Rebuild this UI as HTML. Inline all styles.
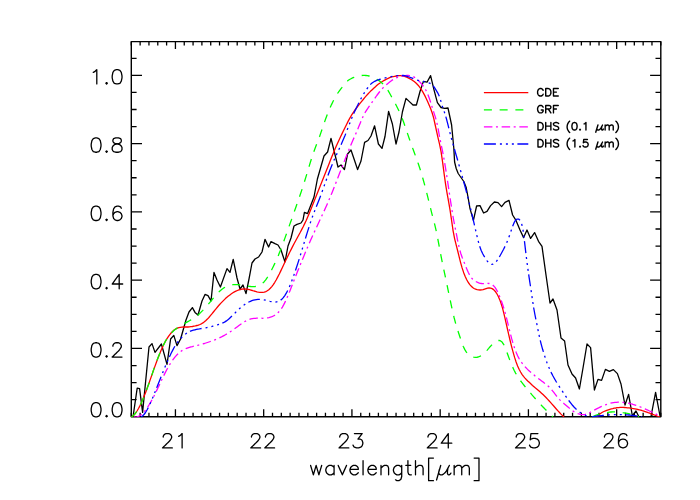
<!DOCTYPE html>
<html><head><meta charset="utf-8"><title>plot</title>
<style>html,body{margin:0;padding:0;background:#fff;font-family:"Liberation Sans",sans-serif}
#w{position:relative;width:700px;height:500px;overflow:hidden;background:#fff}</style></head>
<body><div id="w">
<svg width="700" height="500" viewBox="0 0 700 500" style="position:absolute;left:0;top:0">
<rect width="700" height="500" fill="#fff"/>
<defs><clipPath id="c"><rect x="131.3" y="40.6" width="529.5" height="376.7"/></clipPath></defs>
<g fill="none" stroke-linejoin="round" stroke-linecap="butt">
<path d="M483.9,92.7 H528.3" stroke="#f00" stroke-width="1.30"/>
<path d="M483.9,109.9 H528.3" stroke="#0f0" stroke-width="1.30" stroke-dasharray="8 7.74"/>
<path d="M483.9,126.8 H528.3" stroke="#f0f" stroke-width="1.30" stroke-dasharray="8.5 3.55 2 3.68"/>
<path d="M483.9,144.0 H528.3" stroke="#00f" stroke-width="1.30" stroke-dasharray="12 4 2 4 2 3.95 2 3.55"/>
<path d="M131.30,416.70 V412.80 M131.30,41.60 V45.50 M140.13,416.70 V412.80 M140.13,41.60 V45.50 M148.95,416.70 V412.80 M148.95,41.60 V45.50 M157.78,416.70 V412.80 M157.78,41.60 V45.50 M166.60,416.70 V412.80 M166.60,41.60 V45.50 M175.43,416.70 V409.20 M175.43,41.60 V49.10 M184.25,416.70 V412.80 M184.25,41.60 V45.50 M193.07,416.70 V412.80 M193.07,41.60 V45.50 M201.90,416.70 V412.80 M201.90,41.60 V45.50 M210.72,416.70 V412.80 M210.72,41.60 V45.50 M219.55,416.70 V412.80 M219.55,41.60 V45.50 M228.38,416.70 V412.80 M228.38,41.60 V45.50 M237.20,416.70 V412.80 M237.20,41.60 V45.50 M246.03,416.70 V412.80 M246.03,41.60 V45.50 M254.85,416.70 V412.80 M254.85,41.60 V45.50 M263.68,416.70 V409.20 M263.68,41.60 V49.10 M272.50,416.70 V412.80 M272.50,41.60 V45.50 M281.32,416.70 V412.80 M281.32,41.60 V45.50 M290.15,416.70 V412.80 M290.15,41.60 V45.50 M298.97,416.70 V412.80 M298.97,41.60 V45.50 M307.80,416.70 V412.80 M307.80,41.60 V45.50 M316.63,416.70 V412.80 M316.63,41.60 V45.50 M325.45,416.70 V412.80 M325.45,41.60 V45.50 M334.28,416.70 V412.80 M334.28,41.60 V45.50 M343.10,416.70 V412.80 M343.10,41.60 V45.50 M351.93,416.70 V409.20 M351.93,41.60 V49.10 M360.75,416.70 V412.80 M360.75,41.60 V45.50 M369.57,416.70 V412.80 M369.57,41.60 V45.50 M378.40,416.70 V412.80 M378.40,41.60 V45.50 M387.22,416.70 V412.80 M387.22,41.60 V45.50 M396.05,416.70 V412.80 M396.05,41.60 V45.50 M404.88,416.70 V412.80 M404.88,41.60 V45.50 M413.70,416.70 V412.80 M413.70,41.60 V45.50 M422.53,416.70 V412.80 M422.53,41.60 V45.50 M431.35,416.70 V412.80 M431.35,41.60 V45.50 M440.18,416.70 V409.20 M440.18,41.60 V49.10 M449.00,416.70 V412.80 M449.00,41.60 V45.50 M457.82,416.70 V412.80 M457.82,41.60 V45.50 M466.65,416.70 V412.80 M466.65,41.60 V45.50 M475.47,416.70 V412.80 M475.47,41.60 V45.50 M484.30,416.70 V412.80 M484.30,41.60 V45.50 M493.13,416.70 V412.80 M493.13,41.60 V45.50 M501.95,416.70 V412.80 M501.95,41.60 V45.50 M510.78,416.70 V412.80 M510.78,41.60 V45.50 M519.60,416.70 V412.80 M519.60,41.60 V45.50 M528.42,416.70 V409.20 M528.42,41.60 V49.10 M537.25,416.70 V412.80 M537.25,41.60 V45.50 M546.07,416.70 V412.80 M546.07,41.60 V45.50 M554.90,416.70 V412.80 M554.90,41.60 V45.50 M563.72,416.70 V412.80 M563.72,41.60 V45.50 M572.55,416.70 V412.80 M572.55,41.60 V45.50 M581.38,416.70 V412.80 M581.38,41.60 V45.50 M590.20,416.70 V412.80 M590.20,41.60 V45.50 M599.03,416.70 V412.80 M599.03,41.60 V45.50 M607.85,416.70 V412.80 M607.85,41.60 V45.50 M616.67,416.70 V409.20 M616.67,41.60 V49.10 M625.50,416.70 V412.80 M625.50,41.60 V45.50 M634.32,416.70 V412.80 M634.32,41.60 V45.50 M643.15,416.70 V412.80 M643.15,41.60 V45.50 M651.97,416.70 V412.80 M651.97,41.60 V45.50 M660.80,416.70 V412.80 M660.80,41.60 V45.50 M131.30,399.68 H136.60 M660.80,399.68 H655.50 M131.30,382.61 H136.60 M660.80,382.61 H655.50 M131.30,365.54 H136.60 M660.80,365.54 H655.50 M131.30,348.47 H142.00 M660.80,348.47 H650.10 M131.30,331.40 H136.60 M660.80,331.40 H655.50 M131.30,314.33 H136.60 M660.80,314.33 H655.50 M131.30,297.26 H136.60 M660.80,297.26 H655.50 M131.30,280.19 H142.00 M660.80,280.19 H650.10 M131.30,263.12 H136.60 M660.80,263.12 H655.50 M131.30,246.05 H136.60 M660.80,246.05 H655.50 M131.30,228.98 H136.60 M660.80,228.98 H655.50 M131.30,211.91 H142.00 M660.80,211.91 H650.10 M131.30,194.84 H136.60 M660.80,194.84 H655.50 M131.30,177.77 H136.60 M660.80,177.77 H655.50 M131.30,160.70 H136.60 M660.80,160.70 H655.50 M131.30,143.63 H142.00 M660.80,143.63 H650.10 M131.30,126.56 H136.60 M660.80,126.56 H655.50 M131.30,109.49 H136.60 M660.80,109.49 H655.50 M131.30,92.42 H136.60 M660.80,92.42 H655.50 M131.30,75.35 H142.00 M660.80,75.35 H650.10 M131.30,58.28 H136.60 M660.80,58.28 H655.50" stroke="#000" stroke-width="1.30" stroke-linecap="butt"/>
<rect x="131.30" y="41.60" width="529.50" height="375.10" stroke="#000" stroke-width="1.40"/>
<g clip-path="url(#c)" stroke-width="1.30">
<path d="M133.0,417.0 L137.2,388.2 L139.6,388.6 L142.6,412.4 L149.0,347.0 L152.0,343.6 L155.0,352.4 L161.4,344.0 L167.0,364.4 L170.6,339.0 L173.8,335.4 L177.0,345.6 L180.6,339.0 L186.0,320.0 L189.0,312.0 L192.4,307.6 L195.0,312.4 L198.0,315.0 L202.0,301.0 L205.0,294.4 L208.0,295.6 L211.0,301.0 L214.0,272.4 L217.0,280.0 L220.4,287.0 L227.0,268.6 L230.0,272.4 L233.2,259.4 L237.0,278.0 L240.0,289.0 L243.0,285.0 L246.0,293.6 L249.0,279.0 L252.0,263.0 L255.0,259.0 L258.6,257.0 L262.0,252.0 L265.0,239.4 L268.6,247.0 L271.0,241.6 L275.0,243.6 L278.0,245.0 L281.0,250.0 L285.0,262.0 L288.0,246.0 L291.0,238.0 L294.0,226.0 L297.0,224.4 L301.0,223.0 L303.0,220.0 L304.4,212.4 L307.6,213.6 L314.0,197.0 L317.4,179.0 L324.0,156.0 L327.6,152.0 L331.0,138.4 L334.6,153.0 L338.0,167.0 L341.0,165.0 L344.4,169.6 L347.6,154.0 L351.0,150.0 L354.4,160.0 L357.6,169.6 L361.0,161.0 L364.6,142.4 L368.0,140.5 L371.0,136.0 L374.6,125.8 L378.4,144.0 L382.0,148.4 L385.0,136.5 L388.6,111.4 L392.4,124.0 L396.0,144.0 L399.0,132.0 L402.4,112.0 L406.0,98.4 L409.4,101.6 L413.0,105.0 L416.4,105.0 L420.0,91.5 L423.4,81.4 L427.0,82.2 L430.6,75.6 L434.0,89.8 L437.4,102.7 L441.0,107.5 L444.6,108.4 L448.0,108.0 L451.6,125.0 L453.8,148.0 L454.6,162.0 L456.2,168.5 L458.2,173.5 L461.0,177.5 L463.8,181.5 L466.2,187.5 L468.0,197.0 L470.0,208.6 L473.4,220.4 L476.6,206.0 L480.0,205.6 L483.6,213.0 L487.0,211.4 L490.6,205.6 L494.4,202.0 L498.0,202.6 L501.6,206.6 L505.0,202.4 L509.0,200.4 L512.6,215.0 L516.0,220.4 L520.0,230.0 L523.6,237.6 L527.0,230.0 L530.6,238.4 L534.6,232.6 L538.5,241.3 L542.0,246.4 L546.0,275.0 L550.0,303.0 L553.0,299.0 L557.0,310.0 L561.0,338.0 L564.6,341.0 L568.0,365.0 L572.0,374.0 L575.6,378.0 L579.4,389.0 L583.0,368.0 L587.0,344.0 L590.6,347.6 L594.4,390.0 L598.0,379.4 L601.6,380.4 L605.4,369.4 L609.4,371.4 L613.4,369.6 L617.4,373.6 L621.0,384.0 L625.0,405.0 L628.6,394.4 L632.4,416.0 L636.0,411.0 L639.0,417.0 L651.0,416.5 L655.6,392.4 L660.0,416.0" stroke="#000"/>
<path d="M131.0,417.0 L132.5,416.2 L134.0,414.9 L135.5,413.2 L137.0,411.0 L138.5,408.5 L140.0,405.6 L141.5,402.5 L143.0,399.0 L144.5,395.3 L146.0,391.4 L147.5,387.3 L149.0,383.2 L150.5,378.9 L152.0,374.6 L153.5,370.3 L155.0,366.1 L156.5,362.0 L158.0,358.0 L159.5,354.2 L161.0,350.6 L162.5,347.2 L164.0,344.0 L165.5,341.1 L167.0,338.6 L168.5,336.3 L170.0,334.3 L171.5,332.5 L173.0,331.0 L174.4,329.8 L175.9,328.9 L177.4,328.1 L178.9,327.6 L180.4,327.3 L181.9,327.1 L183.4,327.0 L184.9,327.0 L186.4,327.0 L187.9,327.0 L189.4,326.9 L190.9,326.7 L192.4,326.5 L193.9,326.2 L195.4,325.9 L196.9,325.5 L198.4,325.1 L199.9,324.5 L201.4,323.8 L202.9,322.9 L204.4,321.8 L205.9,320.5 L207.4,319.1 L208.9,317.5 L210.4,315.7 L211.9,313.9 L213.4,312.0 L214.9,310.1 L216.4,308.3 L217.9,306.5 L219.4,304.8 L220.9,303.1 L222.4,301.6 L223.9,300.1 L225.4,298.6 L226.9,297.3 L228.4,296.0 L229.9,294.9 L231.4,293.8 L232.9,292.8 L234.4,291.9 L235.9,291.2 L237.4,290.5 L238.9,289.9 L240.4,289.5 L241.9,289.2 L243.4,289.0 L244.9,289.0 L246.4,289.1 L247.9,289.3 L249.4,289.7 L250.9,290.1 L252.4,290.5 L253.9,291.0 L255.4,291.4 L256.9,291.8 L258.4,292.1 L259.9,292.3 L261.3,292.4 L262.8,292.3 L264.3,292.1 L265.8,291.6 L267.3,290.8 L268.8,289.7 L270.3,288.3 L271.8,286.6 L273.3,284.6 L274.8,282.3 L276.3,279.7 L277.8,276.9 L279.3,274.0 L280.8,270.9 L282.3,267.7 L283.8,264.5 L285.3,261.3 L286.8,258.2 L288.3,255.1 L289.8,252.0 L291.3,249.1 L292.8,246.1 L294.3,243.3 L295.8,240.5 L297.3,237.8 L298.8,235.0 L300.3,232.3 L301.8,229.4 L303.3,226.5 L304.8,223.4 L306.3,220.2 L307.8,216.7 L309.3,213.2 L310.8,209.5 L312.3,205.8 L313.8,202.0 L315.3,198.3 L316.8,194.5 L318.3,190.8 L319.8,187.1 L321.3,183.3 L322.8,179.6 L324.3,175.8 L325.8,172.0 L327.3,168.2 L328.8,164.4 L330.3,160.6 L331.8,156.8 L333.3,153.2 L334.8,149.6 L336.3,146.1 L337.8,142.7 L339.3,139.4 L340.8,136.2 L342.3,133.1 L343.8,130.0 L345.3,127.0 L346.8,124.0 L348.2,121.1 L349.7,118.4 L351.2,115.7 L352.7,113.3 L354.2,111.1 L355.7,109.0 L357.2,107.0 L358.7,105.1 L360.2,103.2 L361.7,101.3 L363.2,99.5 L364.7,97.6 L366.2,95.9 L367.7,94.2 L369.2,92.6 L370.7,91.1 L372.2,89.7 L373.7,88.3 L375.2,86.9 L376.7,85.6 L378.2,84.3 L379.7,83.2 L381.2,82.2 L382.7,81.3 L384.2,80.4 L385.7,79.6 L387.2,78.8 L388.7,78.1 L390.2,77.4 L391.7,76.9 L393.2,76.6 L394.7,76.3 L396.2,76.0 L397.7,75.7 L399.2,75.6 L400.7,75.6 L402.2,75.8 L403.7,76.1 L405.2,76.6 L406.7,77.2 L408.2,77.9 L409.7,78.7 L411.2,79.5 L412.7,80.4 L414.2,81.5 L415.7,82.7 L417.2,84.2 L418.7,85.9 L420.2,87.8 L421.7,90.1 L423.2,92.6 L424.7,95.4 L426.2,98.5 L427.7,101.7 L429.2,105.2 L430.7,108.8 L432.2,113.0 L433.7,118.1 L435.1,124.5 L436.6,131.4 L438.1,138.1 L439.6,144.3 L441.1,151.8 L442.6,162.2 L444.1,173.7 L445.6,184.3 L447.1,193.3 L448.6,201.6 L450.1,210.3 L451.6,220.5 L453.1,230.8 L454.6,238.6 L456.1,244.7 L457.6,250.5 L459.1,256.6 L460.6,262.6 L462.1,267.9 L463.6,272.4 L465.1,276.3 L466.6,279.5 L468.1,282.2 L469.6,284.4 L471.1,286.1 L472.6,287.5 L474.1,288.5 L475.6,289.2 L477.1,289.6 L478.6,289.9 L480.1,290.0 L481.6,289.9 L483.1,289.6 L484.6,289.1 L486.1,288.6 L487.6,288.2 L489.1,288.0 L490.6,288.1 L492.1,288.6 L493.6,289.6 L495.1,291.2 L496.6,293.3 L498.1,296.0 L499.6,299.4 L501.1,303.5 L502.6,308.4 L504.1,314.3 L505.6,320.8 L507.1,327.5 L508.6,334.1 L510.1,340.5 L511.6,346.6 L513.1,352.2 L514.6,357.4 L516.1,362.0 L517.6,365.9 L519.1,369.3 L520.6,372.0 L522.0,374.3 L523.5,376.3 L525.0,378.1 L526.5,379.7 L528.0,381.2 L529.5,382.6 L531.0,384.0 L532.5,385.4 L534.0,386.7 L535.5,388.0 L537.0,389.2 L538.5,390.5 L540.0,391.8 L541.5,393.2 L543.0,394.6 L544.5,396.0 L546.0,397.5 L547.5,399.1 L549.0,400.7 L550.5,402.4 L552.0,404.1 L553.5,405.8 L555.0,407.5 L556.5,409.2 L558.0,410.9 L559.5,412.5 L561.0,414.1 L562.5,415.6 L564.0,417.0" stroke="#f00"/>
<path d="M596.5,417.0 L598.0,415.5 L599.5,414.3 L600.9,413.2 L602.4,412.3 L603.9,411.5 L605.4,410.9 L606.8,410.3 L608.3,409.8 L609.8,409.3 L611.3,408.9 L612.7,408.6 L614.2,408.2 L615.7,408.0 L617.2,407.7 L618.7,407.6 L620.1,407.4 L621.6,407.4 L623.1,407.4 L624.6,407.5 L626.0,407.6 L627.5,407.8 L629.0,407.9 L630.5,408.2 L631.9,408.4 L633.4,408.6 L634.9,408.9 L636.4,409.2 L637.8,409.5 L639.3,409.8 L640.8,410.2 L642.3,410.7 L643.8,411.1 L645.2,411.6 L646.7,412.1 L648.2,412.7 L649.7,413.2 L651.1,413.8 L652.6,414.3 L654.1,414.9 L655.6,415.4 L657.0,416.0 L658.5,416.5 L660.0,417.0" stroke="#f00"/>
<path d="M131.0,417.0 L132.5,416.2 L134.0,414.9 L135.5,413.2 L137.0,411.0 L138.5,408.5 L140.0,405.6 L141.5,402.5 L143.0,399.0 L144.5,395.4 L146.0,391.5 L147.5,387.4 L149.0,383.2 L150.5,379.0 L152.0,374.7 L153.4,370.4 L154.9,366.2 L156.4,362.0 L157.9,358.0 L159.4,354.2 L160.9,350.6 L162.4,347.2 L163.9,344.1 L165.4,341.2 L166.9,338.8 L168.4,336.6 L169.9,334.7 L171.4,333.0 L172.9,331.5 L174.4,330.1 L175.9,328.9 L177.4,327.8 L178.9,326.7 L180.4,325.8 L181.9,324.9 L183.4,324.1 L184.9,323.2 L186.4,322.4 L187.9,321.6 L189.4,320.8 L190.9,319.9 L192.4,319.1 L193.9,318.1 L195.3,317.1 L196.8,315.9 L198.3,314.7 L199.8,313.4 L201.3,311.9 L202.8,310.4 L204.3,308.8 L205.8,307.1 L207.3,305.4 L208.8,303.6 L210.3,301.8 L211.8,300.0 L213.3,298.2 L214.8,296.4 L216.3,294.7 L217.8,293.1 L219.3,291.6 L220.8,290.2 L222.3,289.0 L223.8,287.9 L225.3,287.1 L226.8,286.3 L228.3,285.7 L229.8,285.3 L231.3,284.9 L232.8,284.7 L234.3,284.6 L235.8,284.6 L237.2,284.6 L238.7,284.7 L240.2,284.9 L241.7,285.1 L243.2,285.3 L244.7,285.6 L246.2,285.9 L247.7,286.1 L249.2,286.3 L250.7,286.5 L252.2,286.6 L253.7,286.6 L255.2,286.5 L256.7,286.3 L258.2,285.9 L259.7,285.3 L261.2,284.4 L262.7,283.2 L264.2,281.7 L265.7,279.9 L267.2,277.7 L268.7,275.3 L270.2,272.6 L271.7,269.7 L273.2,266.7 L274.7,263.6 L276.2,260.5 L277.7,257.2 L279.1,253.6 L280.6,249.9 L282.1,245.9 L283.6,241.8 L285.1,237.6 L286.6,233.4 L288.1,229.2 L289.6,224.9 L291.1,220.7 L292.6,216.4 L294.1,212.2 L295.6,208.0 L297.1,203.7 L298.6,199.4 L300.1,195.0 L301.6,190.6 L303.1,186.0 L304.6,181.3 L306.1,176.4 L307.6,171.4 L309.1,166.4 L310.6,161.5 L312.1,156.8 L313.6,152.4 L315.1,148.2 L316.6,144.3 L318.1,140.4 L319.6,136.5 L321.0,132.4 L322.5,128.0 L324.0,123.6 L325.5,119.3 L327.0,115.3 L328.5,111.5 L330.0,107.9 L331.5,104.6 L333.0,101.5 L334.5,98.6 L336.0,95.9 L337.5,93.5 L339.0,91.3 L340.5,89.3 L342.0,87.4 L343.5,85.4 L345.0,83.6 L346.5,82.0 L348.0,80.6 L349.5,79.5 L351.0,78.7 L352.5,77.9 L354.0,77.3 L355.5,76.8 L357.0,76.3 L358.5,76.0 L360.0,75.7 L361.5,75.5 L363.0,75.4 L364.4,75.4 L365.9,75.5 L367.4,75.7 L368.9,76.0 L370.4,76.4 L371.9,76.9 L373.4,77.5 L374.9,78.2 L376.4,79.0 L377.9,79.9 L379.4,80.9 L380.9,82.1 L382.4,83.4 L383.9,85.0 L385.4,86.8 L386.9,88.8 L388.4,91.1 L389.9,93.7 L391.4,96.5 L392.9,99.3 L394.4,102.0 L395.9,104.8 L397.4,107.7 L398.9,110.7 L400.4,114.0 L401.9,117.6 L403.4,121.6 L404.9,125.8 L406.3,130.1 L407.8,134.4 L409.3,138.7 L410.8,143.0 L412.3,147.2 L413.8,151.3 L415.3,155.4 L416.8,159.5 L418.3,163.8 L419.8,168.2 L421.3,173.0 L422.8,178.2 L424.3,183.6 L425.8,189.3 L427.3,195.2 L428.8,201.2 L430.3,207.3 L431.8,213.3 L433.3,219.1 L434.8,224.8 L436.3,231.3 L437.8,238.8 L439.3,246.8 L440.8,254.9 L442.3,262.4 L443.8,269.7 L445.3,276.7 L446.8,283.7 L448.2,290.7 L449.7,297.8 L451.2,304.8 L452.7,311.6 L454.2,318.0 L455.7,323.6 L457.2,328.6 L458.7,333.2 L460.2,337.7 L461.7,342.2 L463.2,346.2 L464.7,349.4 L466.2,351.9 L467.7,353.7 L469.2,355.0 L470.7,356.0 L472.2,356.7 L473.7,357.2 L475.2,357.4 L476.7,357.3 L478.2,357.0 L479.7,356.4 L481.2,355.6 L482.7,354.5 L484.2,353.2 L485.7,351.7 L487.2,350.1 L488.7,348.4 L490.1,346.7 L491.6,345.1 L493.1,343.6 L494.6,342.3 L496.1,341.2 L497.6,340.6 L499.1,340.4 L500.6,340.9 L502.1,342.1 L503.6,344.3 L505.1,347.4 L506.6,351.3 L508.1,355.5 L509.6,359.6 L511.1,363.5 L512.6,367.0 L514.1,370.2 L515.6,373.1 L517.1,375.7 L518.6,378.0 L520.1,380.2 L521.6,382.2 L523.1,384.1 L524.6,386.0 L526.1,387.8 L527.6,389.6 L529.1,391.4 L530.6,393.2 L532.0,394.9 L533.5,396.6 L535.0,398.3 L536.5,400.0 L538.0,401.7 L539.5,403.3 L541.0,404.9 L542.5,406.5 L544.0,408.0 L545.5,409.6 L547.0,411.0 L548.5,412.5 L550.0,414.0 L551.5,415.5 L553.0,417.0" stroke="#0f0" stroke-dasharray="8 7.74"/>
<path d="M592.0,417.0 L593.5,416.3 L594.9,415.7 L596.4,415.1 L597.9,414.6 L599.3,414.2 L600.8,413.8 L602.3,413.5 L603.8,413.2 L605.2,412.9 L606.7,412.7 L608.2,412.4 L609.6,412.2 L611.1,412.0 L612.6,411.9 L614.0,411.9 L615.5,411.9 L617.0,411.9 L618.4,412.0 L619.9,412.2 L621.4,412.3 L622.8,412.6 L624.3,412.8 L625.8,413.1 L627.2,413.4 L628.7,413.7 L630.2,414.1 L631.7,414.5 L633.1,414.9 L634.6,415.3 L636.1,415.8 L637.5,416.3 L639.0,416.8" stroke="#0f0" stroke-dasharray="8 7.74"/>
<path d="M134.0,417.0 L135.5,417.1 L137.0,416.9 L138.5,416.4 L140.0,415.5 L141.5,414.4 L143.0,413.0 L144.5,411.4 L146.0,409.5 L147.5,407.4 L149.0,405.0 L150.5,402.5 L152.0,399.8 L153.5,397.0 L155.0,394.0 L156.5,390.9 L158.0,387.8 L159.5,384.6 L161.0,381.3 L162.5,378.2 L164.0,375.1 L165.5,372.1 L167.0,369.3 L168.5,366.6 L170.0,364.1 L171.5,361.8 L173.0,359.6 L174.5,357.7 L176.0,355.9 L177.5,354.3 L179.0,352.9 L180.5,351.7 L182.0,350.6 L183.5,349.7 L185.0,349.0 L186.5,348.3 L187.9,347.8 L189.4,347.3 L190.9,346.9 L192.4,346.6 L193.9,346.2 L195.4,345.9 L196.9,345.5 L198.4,345.2 L199.9,344.8 L201.4,344.3 L202.9,343.9 L204.4,343.5 L205.9,343.0 L207.4,342.5 L208.9,342.0 L210.4,341.5 L211.9,341.0 L213.4,340.4 L214.9,339.8 L216.4,339.2 L217.9,338.6 L219.4,337.9 L220.9,337.2 L222.4,336.4 L223.9,335.6 L225.4,334.8 L226.9,333.9 L228.4,332.9 L229.9,332.0 L231.4,331.0 L232.9,329.9 L234.4,328.9 L235.9,327.8 L237.4,326.7 L238.9,325.6 L240.4,324.5 L241.9,323.5 L243.4,322.4 L244.9,321.5 L246.4,320.7 L247.9,319.9 L249.4,319.4 L250.9,318.9 L252.4,318.6 L253.9,318.4 L255.4,318.3 L256.9,318.2 L258.4,318.2 L259.9,318.2 L261.4,318.2 L262.9,318.3 L264.4,318.2 L265.9,318.1 L267.4,317.9 L268.9,317.6 L270.4,317.2 L271.9,316.7 L273.4,316.0 L274.9,315.1 L276.4,314.0 L277.9,312.7 L279.4,311.2 L280.9,309.3 L282.4,307.1 L283.9,304.4 L285.4,301.4 L286.9,298.1 L288.4,294.6 L289.9,290.9 L291.4,287.1 L292.8,283.4 L294.3,279.6 L295.8,275.9 L297.3,272.1 L298.8,268.4 L300.3,264.7 L301.8,261.0 L303.3,257.4 L304.8,253.8 L306.3,250.2 L307.8,246.7 L309.3,243.2 L310.8,239.8 L312.3,236.5 L313.8,233.2 L315.3,229.9 L316.8,226.7 L318.3,223.4 L319.8,220.2 L321.3,217.0 L322.8,213.8 L324.3,210.6 L325.8,207.3 L327.3,203.9 L328.8,200.4 L330.3,196.9 L331.8,193.2 L333.3,189.4 L334.8,185.6 L336.3,181.8 L337.8,177.9 L339.3,174.1 L340.8,170.2 L342.3,166.4 L343.8,162.6 L345.3,158.7 L346.8,154.9 L348.3,151.2 L349.8,147.5 L351.3,143.9 L352.8,140.5 L354.3,137.1 L355.8,133.8 L357.3,130.3 L358.8,126.6 L360.3,122.9 L361.8,119.3 L363.3,116.0 L364.8,113.0 L366.3,110.6 L367.8,108.3 L369.3,106.2 L370.8,104.1 L372.3,101.9 L373.8,99.8 L375.3,97.7 L376.8,95.5 L378.3,93.5 L379.8,91.5 L381.3,89.7 L382.8,88.1 L384.3,86.6 L385.8,85.2 L387.3,83.9 L388.8,82.7 L390.3,81.5 L391.8,80.4 L393.3,79.5 L394.8,78.6 L396.3,77.9 L397.7,77.3 L399.2,76.7 L400.7,76.3 L402.2,76.0 L403.7,75.7 L405.2,75.6 L406.7,75.5 L408.2,75.5 L409.7,75.6 L411.2,75.9 L412.7,76.4 L414.2,77.1 L415.7,78.1 L417.2,79.3 L418.7,80.7 L420.2,82.4 L421.7,84.2 L423.2,86.0 L424.7,88.1 L426.2,90.7 L427.7,94.0 L429.2,98.0 L430.7,102.5 L432.2,107.3 L433.7,112.1 L435.2,116.6 L436.7,121.8 L438.2,129.1 L439.7,137.5 L441.2,144.9 L442.7,152.0 L444.2,160.1 L445.7,169.1 L447.2,178.7 L448.7,188.7 L450.2,198.8 L451.7,208.5 L453.2,217.6 L454.7,225.5 L456.2,233.0 L457.7,240.8 L459.2,247.8 L460.7,253.2 L462.2,257.5 L463.7,261.2 L465.2,265.0 L466.7,268.8 L468.2,272.3 L469.7,275.2 L471.2,277.5 L472.7,279.2 L474.2,280.4 L475.7,281.4 L477.2,282.2 L478.7,282.8 L480.2,283.3 L481.7,283.5 L483.2,283.6 L484.7,283.5 L486.2,283.4 L487.7,283.3 L489.2,283.5 L490.7,283.9 L492.2,284.7 L493.7,285.9 L495.2,287.7 L496.7,290.1 L498.2,293.1 L499.7,296.6 L501.2,300.4 L502.6,304.5 L504.1,309.1 L505.6,314.4 L507.1,320.3 L508.6,326.5 L510.1,332.6 L511.6,338.4 L513.1,343.6 L514.6,348.3 L516.1,352.3 L517.6,355.7 L519.1,358.6 L520.6,361.0 L522.1,363.2 L523.6,365.1 L525.1,366.8 L526.6,368.4 L528.1,369.9 L529.6,371.3 L531.1,372.6 L532.6,373.9 L534.1,375.1 L535.6,376.4 L537.1,377.6 L538.6,378.7 L540.1,379.8 L541.6,380.9 L543.1,382.0 L544.6,383.2 L546.1,384.3 L547.6,385.6 L549.1,387.0 L550.6,388.6 L552.1,390.3 L553.6,392.2 L555.1,394.2 L556.6,396.1 L558.1,398.0 L559.6,399.6 L561.1,401.1 L562.6,402.5 L564.1,403.7 L565.6,405.0 L567.1,406.3 L568.6,407.6 L570.1,408.8 L571.6,410.0 L573.1,411.1 L574.6,412.0 L576.1,412.8 L577.6,413.5 L579.1,414.0 L580.6,414.4 L582.1,414.6 L583.6,414.6 L585.1,414.4 L586.6,414.0 L588.1,413.4 L589.6,412.7 L591.1,411.9 L592.6,411.0 L594.1,410.2 L595.6,409.4 L597.1,408.6 L598.6,407.9 L600.1,407.1 L601.6,406.4 L603.1,405.8 L604.6,405.2 L606.1,404.6 L607.5,404.1 L609.0,403.6 L610.5,403.2 L612.0,402.9 L613.5,402.6 L615.0,402.4 L616.5,402.3 L618.0,402.2 L619.5,402.2 L621.0,402.2 L622.5,402.3 L624.0,402.5 L625.5,402.7 L627.0,402.9 L628.5,403.2 L630.0,403.6 L631.5,403.9 L633.0,404.4 L634.5,404.8 L636.0,405.3 L637.5,405.8 L639.0,406.4 L640.5,407.0 L642.0,407.6 L643.5,408.2 L645.0,408.9 L646.5,409.6 L648.0,410.2 L649.5,411.0 L651.0,411.7 L652.5,412.4 L654.0,413.1 L655.5,413.8 L657.0,414.6 L658.5,415.3 L660.0,416.0" stroke="#f0f" stroke-dasharray="8.5 3.55 2 3.68"/>
<path d="M141.0,417.0 L142.5,416.0 L144.0,414.5 L145.5,412.5 L147.0,410.0 L148.5,407.2 L150.0,404.0 L151.5,400.6 L153.0,397.0 L154.5,393.3 L156.0,389.5 L157.5,385.7 L159.0,381.9 L160.5,378.2 L162.0,374.4 L163.5,370.7 L165.0,367.1 L166.5,363.5 L168.0,360.0 L169.5,356.7 L171.0,353.5 L172.5,350.6 L174.0,347.8 L175.5,345.2 L177.0,343.0 L178.5,340.9 L180.0,339.1 L181.5,337.5 L183.0,336.0 L184.5,334.8 L185.9,333.7 L187.4,332.7 L188.9,331.9 L190.4,331.2 L191.9,330.6 L193.4,330.2 L194.9,329.8 L196.4,329.4 L197.9,329.1 L199.4,328.9 L200.9,328.6 L202.4,328.4 L203.9,328.2 L205.4,327.9 L206.9,327.6 L208.4,327.3 L209.9,327.0 L211.4,326.6 L212.9,326.2 L214.4,325.8 L215.9,325.3 L217.4,324.9 L218.9,324.4 L220.4,323.9 L221.9,323.3 L223.4,322.7 L224.9,321.9 L226.4,320.9 L227.9,319.8 L229.4,318.5 L230.9,317.1 L232.4,315.7 L233.9,314.1 L235.4,312.6 L236.9,311.1 L238.4,309.7 L239.9,308.3 L241.4,307.0 L242.9,305.8 L244.4,304.7 L245.9,303.7 L247.4,302.8 L248.9,302.0 L250.4,301.3 L251.9,300.7 L253.4,300.2 L254.9,299.8 L256.4,299.6 L257.9,299.4 L259.4,299.4 L260.9,299.4 L262.4,299.5 L263.9,299.8 L265.4,300.1 L266.9,300.5 L268.4,300.9 L269.9,301.3 L271.4,301.6 L272.9,301.9 L274.4,302.0 L275.8,302.0 L277.3,301.7 L278.8,301.2 L280.3,300.4 L281.8,299.2 L283.3,297.6 L284.8,295.6 L286.3,293.2 L287.8,290.3 L289.3,287.1 L290.8,283.5 L292.3,279.6 L293.8,275.4 L295.3,271.0 L296.8,266.5 L298.3,261.9 L299.8,257.1 L301.3,252.2 L302.8,247.3 L304.3,242.3 L305.8,237.3 L307.3,232.4 L308.8,227.6 L310.3,222.9 L311.8,218.5 L313.3,214.4 L314.8,210.6 L316.3,206.8 L317.8,203.1 L319.3,199.2 L320.8,195.2 L322.3,191.1 L323.8,186.9 L325.3,182.7 L326.8,178.6 L328.3,174.5 L329.8,170.6 L331.3,166.8 L332.8,163.2 L334.3,159.6 L335.8,156.2 L337.3,152.9 L338.8,149.7 L340.3,146.4 L341.8,143.1 L343.3,139.6 L344.8,136.1 L346.3,132.3 L347.8,128.3 L349.3,124.4 L350.8,120.5 L352.3,116.7 L353.8,113.3 L355.3,110.1 L356.8,107.0 L358.3,104.0 L359.8,101.0 L361.3,98.0 L362.8,95.3 L364.3,92.8 L365.7,90.6 L367.2,88.5 L368.7,86.5 L370.2,84.7 L371.7,83.3 L373.2,82.2 L374.7,81.3 L376.2,80.6 L377.7,80.0 L379.2,79.5 L380.7,79.1 L382.2,78.7 L383.7,78.3 L385.2,77.9 L386.7,77.6 L388.2,77.3 L389.7,77.0 L391.2,76.7 L392.7,76.4 L394.2,76.1 L395.7,75.9 L397.2,75.7 L398.7,75.5 L400.2,75.5 L401.7,75.5 L403.2,75.5 L404.7,75.7 L406.2,76.1 L407.7,76.5 L409.2,77.0 L410.7,77.6 L412.2,78.2 L413.7,78.8 L415.2,79.4 L416.7,79.9 L418.2,80.4 L419.7,80.8 L421.2,81.1 L422.7,81.4 L424.2,81.8 L425.7,82.1 L427.2,82.5 L428.7,82.9 L430.2,83.4 L431.7,84.3 L433.2,85.7 L434.7,87.8 L436.2,90.3 L437.7,92.8 L439.2,96.0 L440.7,100.6 L442.2,106.0 L443.7,110.1 L445.2,114.5 L446.7,119.8 L448.2,125.6 L449.7,131.7 L451.2,137.7 L452.7,143.1 L454.2,148.2 L455.6,153.2 L457.1,158.3 L458.6,163.6 L460.1,168.9 L461.6,174.3 L463.1,179.7 L464.6,185.1 L466.1,190.7 L467.6,196.5 L469.1,202.5 L470.6,208.6 L472.1,214.9 L473.6,221.4 L475.1,227.9 L476.6,234.4 L478.1,240.7 L479.6,246.1 L481.1,250.2 L482.6,253.5 L484.1,256.2 L485.6,258.7 L487.1,260.9 L488.6,262.6 L490.1,263.8 L491.6,264.4 L493.1,264.2 L494.6,263.3 L496.1,261.8 L497.6,259.8 L499.1,257.4 L500.6,254.7 L502.1,252.0 L503.6,249.2 L505.1,246.2 L506.6,243.0 L508.1,239.3 L509.6,235.2 L511.1,230.8 L512.6,226.4 L514.1,222.7 L515.6,220.2 L517.1,219.1 L518.6,219.1 L520.1,220.3 L521.6,223.5 L523.1,230.5 L524.6,242.3 L526.1,255.1 L527.6,266.9 L529.1,277.3 L530.6,287.1 L532.1,297.4 L533.6,307.4 L535.1,315.5 L536.6,322.8 L538.1,330.4 L539.6,337.6 L541.1,343.8 L542.6,349.3 L544.1,354.2 L545.5,358.6 L547.0,362.7 L548.5,366.5 L550.0,369.9 L551.5,373.1 L553.0,376.0 L554.5,378.7 L556.0,381.3 L557.5,383.7 L559.0,386.1 L560.5,388.4 L562.0,390.7 L563.5,392.9 L565.0,395.2 L566.5,397.3 L568.0,399.4 L569.5,401.5 L571.0,403.4 L572.5,405.3 L574.0,407.0 L575.5,408.5 L577.0,409.9 L578.5,411.1 L580.0,412.2 L581.5,413.1 L583.0,414.0 L584.5,414.8 L586.0,415.6 L587.5,416.3 L589.0,417.0" stroke="#00f" stroke-dasharray="12 4 2 4 2 3.95 2 3.55"/>
<path d="M592.0,417.0 L593.5,416.7 L594.9,416.4 L596.4,416.2 L597.9,416.0 L599.4,415.8 L600.8,415.6 L602.3,415.5 L603.8,415.3 L605.2,415.2 L606.7,415.1 L608.2,415.0 L609.6,414.9 L611.1,414.8 L612.6,414.8 L614.1,414.7 L615.5,414.7 L617.0,414.6 L618.5,414.6 L619.9,414.6 L621.4,414.6 L622.9,414.6 L624.4,414.7 L625.8,414.8 L627.3,414.9 L628.8,415.0 L630.2,415.2 L631.7,415.3 L633.2,415.5 L634.6,415.7 L636.1,415.9 L637.6,416.1 L639.1,416.3 L640.5,416.6 L642.0,416.8" stroke="#00f" stroke-dasharray="12 4 2 4 2 3.95 2 3.55"/>
</g>
<path d="M163.23,436.99 L163.23,436.31 L163.93,434.94 L164.62,434.26 L166.03,433.58 L166.73,433.58 L167.43,433.58 L168.12,433.58 L168.83,433.58 L170.23,434.26 L170.93,434.94 L171.62,436.31 L171.62,436.99 L171.62,437.67 L170.93,439.03 L169.53,441.08 L168.83,441.76 L168.12,442.44 L167.43,443.13 L166.73,443.81 L166.03,444.49 L165.33,445.17 L164.62,445.85 L163.93,446.54 L163.23,447.22 L162.53,447.90 L163.23,447.90 L163.93,447.90 L164.62,447.90 L165.33,447.90 L166.03,447.90 L166.73,447.90 L167.43,447.90 L168.12,447.90 L168.83,447.90 L169.53,447.90 L170.23,447.90 L170.93,447.90 L171.62,447.90 L172.33,447.90 M178.62,436.31 L180.03,435.62 L180.73,434.94 L181.43,434.26 L182.12,433.58 L182.12,434.26 L182.12,434.94 L182.12,435.62 L182.12,436.31 L182.12,436.99 L182.12,437.67 L182.12,438.35 L182.12,439.03 L182.12,439.72 L182.12,440.40 L182.12,441.08 L182.12,441.76 L182.12,442.44 L182.12,443.13 L182.12,443.81 L182.12,444.49 L182.12,445.17 L182.12,445.85 L182.12,446.54 L182.12,447.22 L182.12,447.90 M251.48,436.99 L251.48,436.31 L252.18,434.94 L252.88,434.26 L254.28,433.58 L254.98,433.58 L255.68,433.58 L256.38,433.58 L257.07,433.58 L258.48,434.26 L259.18,434.94 L259.88,436.31 L259.88,436.99 L259.88,437.67 L259.18,439.03 L257.78,441.08 L257.07,441.76 L256.38,442.44 L255.68,443.13 L254.98,443.81 L254.28,444.49 L253.58,445.17 L252.88,445.85 L252.18,446.54 L251.48,447.22 L250.78,447.90 L251.48,447.90 L252.18,447.90 L252.88,447.90 L253.58,447.90 L254.28,447.90 L254.98,447.90 L255.68,447.90 L256.38,447.90 L257.07,447.90 L257.78,447.90 L258.48,447.90 L259.18,447.90 L259.88,447.90 L260.57,447.90 M265.48,436.99 L265.48,436.31 L266.18,434.94 L266.88,434.26 L268.28,433.58 L268.98,433.58 L269.68,433.58 L270.38,433.58 L271.07,433.58 L272.48,434.26 L273.18,434.94 L273.88,436.31 L273.88,436.99 L273.88,437.67 L273.18,439.03 L271.78,441.08 L271.07,441.76 L270.38,442.44 L269.68,443.13 L268.98,443.81 L268.28,444.49 L267.57,445.17 L266.88,445.85 L266.18,446.54 L265.48,447.22 L264.78,447.90 L265.48,447.90 L266.18,447.90 L266.88,447.90 L267.57,447.90 L268.28,447.90 L268.98,447.90 L269.68,447.90 L270.38,447.90 L271.07,447.90 L271.78,447.90 L272.48,447.90 L273.18,447.90 L273.88,447.90 L274.57,447.90 M339.73,436.99 L339.73,436.31 L340.43,434.94 L341.12,434.26 L342.53,433.58 L343.23,433.58 L343.93,433.58 L344.62,433.58 L345.32,433.58 L346.73,434.26 L347.43,434.94 L348.12,436.31 L348.12,436.99 L348.12,437.67 L347.43,439.03 L346.03,441.08 L345.32,441.76 L344.62,442.44 L343.93,443.13 L343.23,443.81 L342.53,444.49 L341.82,445.17 L341.12,445.85 L340.43,446.54 L339.73,447.22 L339.03,447.90 L339.73,447.90 L340.43,447.90 L341.12,447.90 L341.82,447.90 L342.53,447.90 L343.23,447.90 L343.93,447.90 L344.62,447.90 L345.32,447.90 L346.03,447.90 L346.73,447.90 L347.43,447.90 L348.12,447.90 L348.82,447.90 M353.03,445.17 L353.73,446.54 L354.43,447.22 L356.53,447.90 L357.23,447.90 L357.93,447.90 L358.62,447.90 L360.73,447.22 L361.43,446.54 L362.12,445.85 L362.82,443.81 L362.82,443.13 L362.82,442.44 L362.12,440.40 L361.43,439.72 L360.03,439.03 L359.32,439.03 L358.62,439.03 L357.93,439.03 L360.03,436.31 L362.12,433.58 L361.43,433.58 L360.73,433.58 L360.03,433.58 L359.32,433.58 L358.62,433.58 L357.93,433.58 L357.23,433.58 L356.53,433.58 L355.82,433.58 L355.12,433.58 L354.43,433.58 M427.98,436.99 L427.98,436.31 L428.68,434.94 L429.38,434.26 L430.78,433.58 L431.48,433.58 L432.18,433.58 L432.88,433.58 L433.57,433.58 L434.98,434.26 L435.68,434.94 L436.38,436.31 L436.38,436.99 L436.38,437.67 L435.68,439.03 L434.28,441.08 L433.57,441.76 L432.88,442.44 L432.18,443.13 L431.48,443.81 L430.78,444.49 L430.07,445.17 L429.38,445.85 L428.68,446.54 L427.98,447.22 L427.28,447.90 L427.98,447.90 L428.68,447.90 L429.38,447.90 L430.07,447.90 L430.78,447.90 L431.48,447.90 L432.18,447.90 L432.88,447.90 L433.57,447.90 L434.28,447.90 L434.98,447.90 L435.68,447.90 L436.38,447.90 L437.07,447.90 M448.28,447.90 L448.28,447.22 L448.28,446.54 L448.28,445.85 L448.28,445.17 L448.28,444.49 L448.28,443.81 L448.28,443.13 M448.28,443.13 L448.28,442.44 L448.28,441.76 L448.28,441.08 L448.28,440.40 L448.28,439.72 L448.28,439.03 L448.28,438.35 L448.28,437.67 L448.28,436.99 L448.28,436.31 L448.28,435.62 L448.28,434.94 L448.28,434.26 L448.28,433.58 L444.78,438.35 L441.28,443.13 L441.98,443.13 L442.68,443.13 L443.38,443.13 L444.07,443.13 L444.78,443.13 L445.48,443.13 L446.18,443.13 L446.88,443.13 L447.57,443.13 L448.28,443.13 M448.28,443.13 L448.98,443.13 L449.68,443.13 L450.38,443.13 L451.07,443.13 L451.78,443.13 M516.22,436.99 L516.22,436.31 L516.92,434.94 L517.62,434.26 L519.02,433.58 L519.72,433.58 L520.42,433.58 L521.12,433.58 L521.82,433.58 L523.22,434.26 L523.92,434.94 L524.62,436.31 L524.62,436.99 L524.62,437.67 L523.92,439.03 L522.52,441.08 L521.82,441.76 L521.12,442.44 L520.42,443.13 L519.72,443.81 L519.02,444.49 L518.32,445.17 L517.62,445.85 L516.92,446.54 L516.22,447.22 L515.52,447.90 L516.22,447.90 L516.92,447.90 L517.62,447.90 L518.32,447.90 L519.02,447.90 L519.72,447.90 L520.42,447.90 L521.12,447.90 L521.82,447.90 L522.52,447.90 L523.22,447.90 L523.92,447.90 L524.62,447.90 L525.32,447.90 M529.52,445.17 L530.22,446.54 L530.92,447.22 L533.02,447.90 L533.72,447.90 L534.42,447.90 L535.12,447.90 L537.22,447.22 L537.92,446.54 L538.62,445.85 L539.32,443.81 L539.32,443.13 L539.32,442.44 L538.62,440.40 L537.92,439.72 L537.22,439.03 L535.12,438.35 L534.42,438.35 L533.72,438.35 L533.02,438.35 L530.92,439.03 L530.22,439.72 L530.92,433.58 L531.62,433.58 L532.32,433.58 L533.02,433.58 L533.72,433.58 L534.42,433.58 L535.12,433.58 L535.82,433.58 L536.52,433.58 L537.22,433.58 L537.92,433.58 M604.47,436.99 L604.47,436.31 L605.17,434.94 L605.88,434.26 L607.27,433.58 L607.97,433.58 L608.67,433.58 L609.38,433.58 L610.07,433.58 L611.47,434.26 L612.17,434.94 L612.88,436.31 L612.88,436.99 L612.88,437.67 L612.17,439.03 L610.77,441.08 L610.07,441.76 L609.38,442.44 L608.67,443.13 L607.97,443.81 L607.27,444.49 L606.57,445.17 L605.88,445.85 L605.17,446.54 L604.47,447.22 L603.77,447.90 L604.47,447.90 L605.17,447.90 L605.88,447.90 L606.57,447.90 L607.27,447.90 L607.97,447.90 L608.67,447.90 L609.38,447.90 L610.07,447.90 L610.77,447.90 L611.47,447.90 L612.17,447.90 L612.88,447.90 L613.57,447.90 M618.47,443.13 L619.17,441.08 L619.88,440.40 L620.57,439.72 L622.67,439.03 L623.38,439.03 L625.47,439.72 L626.17,440.40 L626.88,441.08 L627.57,443.13 L627.57,443.81 L626.88,445.85 L626.17,446.54 L625.47,447.22 L623.38,447.90 L622.67,447.90 L620.57,447.22 L619.88,446.54 L619.17,445.85 L618.47,443.13 M618.47,443.13 L618.47,442.44 L618.47,441.76 L618.47,441.08 L618.47,440.40 L618.47,439.72 L619.17,436.31 L620.57,434.26 L622.67,433.58 L623.38,433.58 L624.07,433.58 L626.17,434.26 L626.88,435.62 M91.20,350.93 L91.20,350.25 L91.20,349.57 L91.20,348.89 L91.90,345.48 L93.30,343.43 L95.40,342.75 L96.10,342.75 L96.80,342.75 L98.90,343.43 L100.30,345.48 L101.00,348.89 L101.00,349.57 L101.00,350.25 L101.00,350.93 L100.30,354.34 L98.90,356.39 L96.80,357.07 L96.10,357.07 L95.40,357.07 L93.30,356.39 L91.90,354.34 L91.20,350.93 M105.90,356.39 L106.60,355.71 L107.30,356.39 L106.60,357.07 L105.90,356.39 M112.90,346.16 L112.90,345.48 L113.60,344.11 L114.30,343.43 L115.70,342.75 L116.40,342.75 L117.10,342.75 L117.80,342.75 L118.50,342.75 L119.90,343.43 L120.60,344.11 L121.30,345.48 L121.30,346.16 L121.30,346.84 L120.60,348.20 L119.20,350.25 L118.50,350.93 L117.80,351.61 L117.10,352.30 L116.40,352.98 L115.70,353.66 L115.00,354.34 L114.30,355.02 L113.60,355.71 L112.90,356.39 L112.20,357.07 L112.90,357.07 L113.60,357.07 L114.30,357.07 L115.00,357.07 L115.70,357.07 L116.40,357.07 L117.10,357.07 L117.80,357.07 L118.50,357.07 L119.20,357.07 L119.90,357.07 L120.60,357.07 L121.30,357.07 L122.00,357.07 M91.20,282.65 L91.20,281.97 L91.20,281.29 L91.20,280.61 L91.90,277.20 L93.30,275.15 L95.40,274.47 L96.10,274.47 L96.80,274.47 L98.90,275.15 L100.30,277.20 L101.00,280.61 L101.00,281.29 L101.00,281.97 L101.00,282.65 L100.30,286.06 L98.90,288.11 L96.80,288.79 L96.10,288.79 L95.40,288.79 L93.30,288.11 L91.90,286.06 L91.20,282.65 M105.90,288.11 L106.60,287.43 L107.30,288.11 L106.60,288.79 L105.90,288.11 M119.20,288.79 L119.20,288.11 L119.20,287.43 L119.20,286.74 L119.20,286.06 L119.20,285.38 L119.20,284.70 L119.20,284.02 M119.20,284.02 L119.20,283.33 L119.20,282.65 L119.20,281.97 L119.20,281.29 L119.20,280.61 L119.20,279.92 L119.20,279.24 L119.20,278.56 L119.20,277.88 L119.20,277.20 L119.20,276.51 L119.20,275.83 L119.20,275.15 L119.20,274.47 L115.70,279.24 L112.20,284.02 L112.90,284.02 L113.60,284.02 L114.30,284.02 L115.00,284.02 L115.70,284.02 L116.40,284.02 L117.10,284.02 L117.80,284.02 L118.50,284.02 L119.20,284.02 M119.20,284.02 L119.90,284.02 L120.60,284.02 L121.30,284.02 L122.00,284.02 L122.70,284.02 M91.20,214.37 L91.20,213.69 L91.20,213.01 L91.20,212.33 L91.90,208.92 L93.30,206.87 L95.40,206.19 L96.10,206.19 L96.80,206.19 L98.90,206.87 L100.30,208.92 L101.00,212.33 L101.00,213.01 L101.00,213.69 L101.00,214.37 L100.30,217.78 L98.90,219.83 L96.80,220.51 L96.10,220.51 L95.40,220.51 L93.30,219.83 L91.90,217.78 L91.20,214.37 M105.90,219.83 L106.60,219.15 L107.30,219.83 L106.60,220.51 L105.90,219.83 M112.90,215.74 L113.60,213.69 L114.30,213.01 L115.00,212.33 L117.10,211.64 L117.80,211.64 L119.90,212.33 L120.60,213.01 L121.30,213.69 L122.00,215.74 L122.00,216.42 L121.30,218.46 L120.60,219.15 L119.90,219.83 L117.80,220.51 L117.10,220.51 L115.00,219.83 L114.30,219.15 L113.60,218.46 L112.90,215.74 M112.90,215.74 L112.90,215.05 L112.90,214.37 L112.90,213.69 L112.90,213.01 L112.90,212.33 L113.60,208.92 L115.00,206.87 L117.10,206.19 L117.80,206.19 L118.50,206.19 L120.60,206.87 L121.30,208.23 M91.20,146.09 L91.20,145.41 L91.20,144.73 L91.20,144.05 L91.90,140.64 L93.30,138.59 L95.40,137.91 L96.10,137.91 L96.80,137.91 L98.90,138.59 L100.30,140.64 L101.00,144.05 L101.00,144.73 L101.00,145.41 L101.00,146.09 L100.30,149.50 L98.90,151.55 L96.80,152.23 L96.10,152.23 L95.40,152.23 L93.30,151.55 L91.90,149.50 L91.20,146.09 M105.90,151.55 L106.60,150.87 L107.30,151.55 L106.60,152.23 L105.90,151.55 M112.20,149.50 L112.20,148.82 L112.20,148.14 L112.20,147.46 L112.90,146.09 L113.60,145.41 L114.30,144.73 L116.40,144.05 L119.20,143.36 L120.60,142.68 L121.30,141.32 L121.30,140.64 L121.30,139.95 L120.60,138.59 L118.50,137.91 L117.80,137.91 L117.10,137.91 L116.40,137.91 L115.70,137.91 L113.60,138.59 L112.90,139.95 L112.90,140.64 L112.90,141.32 L113.60,142.68 L115.00,143.36 L117.80,144.05 L119.90,144.73 L120.60,145.41 L121.30,146.09 L122.00,147.46 L122.00,148.14 L122.00,148.82 L122.00,149.50 L121.30,150.87 L120.60,151.55 L118.50,152.23 L117.80,152.23 L117.10,152.23 L116.40,152.23 L115.70,152.23 L113.60,151.55 L112.90,150.87 L112.20,149.50 M93.30,72.36 L94.70,71.67 L95.40,70.99 L96.10,70.31 L96.80,69.63 L96.80,70.31 L96.80,70.99 L96.80,71.67 L96.80,72.36 L96.80,73.04 L96.80,73.72 L96.80,74.40 L96.80,75.08 L96.80,75.77 L96.80,76.45 L96.80,77.13 L96.80,77.81 L96.80,78.49 L96.80,79.18 L96.80,79.86 L96.80,80.54 L96.80,81.22 L96.80,81.90 L96.80,82.59 L96.80,83.27 L96.80,83.95 M105.90,83.27 L106.60,82.59 L107.30,83.27 L106.60,83.95 L105.90,83.27 M112.20,77.81 L112.20,77.13 L112.20,76.45 L112.20,75.77 L112.90,72.36 L114.30,70.31 L116.40,69.63 L117.10,69.63 L117.80,69.63 L119.90,70.31 L121.30,72.36 L122.00,75.77 L122.00,76.45 L122.00,77.13 L122.00,77.81 L121.30,81.22 L119.90,83.27 L117.80,83.95 L117.10,83.95 L116.40,83.95 L114.30,83.27 L112.90,81.22 L112.20,77.81 M91.20,410.76 L91.20,410.08 L91.20,409.40 L91.20,408.72 L91.90,405.31 L93.30,403.26 L95.40,402.58 L96.10,402.58 L96.80,402.58 L98.90,403.26 L100.30,405.31 L101.00,408.72 L101.00,409.40 L101.00,410.08 L101.00,410.76 L100.30,414.17 L98.90,416.22 L96.80,416.90 L96.10,416.90 L95.40,416.90 L93.30,416.22 L91.90,414.17 L91.20,410.76 M105.90,416.22 L106.60,415.54 L107.30,416.22 L106.60,416.90 L105.90,416.22 M112.20,410.76 L112.20,410.08 L112.20,409.40 L112.20,408.72 L112.90,405.31 L114.30,403.26 L116.40,402.58 L117.10,402.58 L117.80,402.58 L119.90,403.26 L121.30,405.31 L122.00,408.72 L122.00,409.40 L122.00,410.08 L122.00,410.76 L121.30,414.17 L119.90,416.22 L117.80,416.90 L117.10,416.90 L116.40,416.90 L114.30,416.22 L112.90,414.17 L112.20,410.76 M310.62,465.45 L312.00,470.12 L313.38,474.80 L314.76,470.12 L316.14,465.45 L317.52,470.12 L318.90,474.80 L320.28,470.12 L321.66,465.45 M334.08,474.80 L334.08,474.13 L334.08,473.46 L334.08,472.80 M334.08,472.80 L334.08,472.13 L334.08,471.46 L334.08,470.79 L334.08,470.12 L334.08,469.46 L334.08,468.79 L334.08,468.12 L334.08,467.45 M334.08,472.80 L333.39,473.46 L332.70,474.13 L331.32,474.80 L330.63,474.80 L329.94,474.80 L329.25,474.80 L327.87,474.13 L327.18,473.46 L326.49,472.80 L325.80,470.79 L325.80,470.12 L325.80,469.46 L326.49,467.45 L327.18,466.78 L327.87,466.12 L329.25,465.45 L329.94,465.45 L330.63,465.45 L331.32,465.45 L332.70,466.12 L333.39,466.78 L334.08,467.45 M334.08,467.45 L334.08,466.78 L334.08,466.12 L334.08,465.45 M338.22,465.45 L340.29,470.12 L342.36,474.80 L344.43,470.12 L346.50,465.45 M349.95,469.46 L350.64,467.45 L351.33,466.78 L352.02,466.12 L353.40,465.45 L354.09,465.45 L354.78,465.45 L355.47,465.45 L356.86,466.12 L357.55,466.78 L358.24,468.12 L358.24,468.79 L358.24,469.46 L357.55,469.46 L356.86,469.46 L356.16,469.46 L355.47,469.46 L354.78,469.46 L354.09,469.46 L353.40,469.46 L352.71,469.46 L352.02,469.46 L351.33,469.46 L350.64,469.46 L349.95,469.46 M349.95,469.46 L349.95,470.12 L349.95,470.79 L350.64,472.80 L351.33,473.46 L352.02,474.13 L353.40,474.80 L354.09,474.80 L354.78,474.80 L355.47,474.80 L356.86,474.13 L357.55,473.46 L358.24,472.80 M363.06,474.80 L363.06,474.13 L363.06,473.46 L363.06,472.80 L363.06,472.13 L363.06,471.46 L363.06,470.79 L363.06,470.12 L363.06,469.46 L363.06,468.79 L363.06,468.12 L363.06,467.45 L363.06,466.78 L363.06,466.12 L363.06,465.45 L363.06,464.78 L363.06,464.11 L363.06,463.44 L363.06,462.78 L363.06,462.11 L363.06,461.44 L363.06,460.77 M367.89,469.46 L368.58,467.45 L369.27,466.78 L369.96,466.12 L371.34,465.45 L372.03,465.45 L372.72,465.45 L373.41,465.45 L374.79,466.12 L375.49,466.78 L376.18,468.12 L376.18,468.79 L376.18,469.46 L375.49,469.46 L374.79,469.46 L374.10,469.46 L373.41,469.46 L372.72,469.46 L372.03,469.46 L371.34,469.46 L370.65,469.46 L369.96,469.46 L369.27,469.46 L368.58,469.46 L367.89,469.46 M367.89,469.46 L367.89,470.12 L367.89,470.79 L368.58,472.80 L369.27,473.46 L369.96,474.13 L371.34,474.80 L372.03,474.80 L372.72,474.80 L373.41,474.80 L374.79,474.13 L375.49,473.46 L376.18,472.80 M381.00,474.80 L381.00,474.13 L381.00,473.46 L381.00,472.80 L381.00,472.13 L381.00,471.46 L381.00,470.79 L381.00,470.12 L381.00,469.46 L381.00,468.79 L381.00,468.12 M381.00,468.12 L381.00,467.45 L381.00,466.78 L381.00,466.12 L381.00,465.45 M381.00,468.12 L381.69,467.45 L382.38,466.78 L383.07,466.12 L384.45,465.45 L385.14,465.45 L385.83,465.45 L386.52,465.45 L387.91,466.12 L388.60,468.12 L388.60,468.79 L388.60,469.46 L388.60,470.12 L388.60,470.79 L388.60,471.46 L388.60,472.13 L388.60,472.80 L388.60,473.46 L388.60,474.13 L388.60,474.80 M395.50,479.81 L396.88,480.65 L397.56,480.65 L398.25,480.65 L398.94,480.65 L400.33,479.81 L401.02,478.98 L401.71,476.47 L401.71,475.63 L401.71,474.80 L401.71,474.13 L401.71,473.46 L401.71,472.80 M401.71,472.80 L401.71,472.13 L401.71,471.46 L401.71,470.79 L401.71,470.12 L401.71,469.46 L401.71,468.79 L401.71,468.12 L401.71,467.45 M401.71,472.80 L401.02,473.46 L400.33,474.13 L398.94,474.80 L398.25,474.80 L397.56,474.80 L396.88,474.80 L395.50,474.13 L394.81,473.46 L394.12,472.80 L393.43,470.79 L393.43,470.12 L393.43,469.46 L394.12,467.45 L394.81,466.78 L395.50,466.12 L396.88,465.45 L397.56,465.45 L398.25,465.45 L398.94,465.45 L400.33,466.12 L401.02,466.78 L401.71,467.45 M401.71,467.45 L401.71,466.78 L401.71,466.12 L401.71,465.45 M405.85,465.45 L406.54,465.45 L407.23,465.45 L407.92,465.45 M407.92,465.45 L407.92,464.78 L407.92,464.11 L407.92,463.44 L407.92,462.78 L407.92,462.11 L407.92,461.44 L407.92,460.77 M407.92,465.45 L408.61,465.45 L409.30,465.45 L409.99,465.45 L410.68,465.45 M407.92,465.45 L407.92,466.12 L407.92,466.78 L407.92,467.45 L407.92,468.12 L407.92,468.79 L407.92,469.46 L407.92,470.12 L407.92,470.79 L407.92,471.46 L407.92,472.13 L408.61,474.13 L409.99,474.80 L410.68,474.80 L411.37,474.80 M415.50,474.80 L415.50,474.13 L415.50,473.46 L415.50,472.80 L415.50,472.13 L415.50,471.46 L415.50,470.79 L415.50,470.12 L415.50,469.46 L415.50,468.79 L415.50,468.12 M415.50,468.12 L415.50,467.45 L415.50,466.78 L415.50,466.12 L415.50,465.45 L415.50,464.78 L415.50,464.11 L415.50,463.44 L415.50,462.78 L415.50,462.11 L415.50,461.44 L415.50,460.77 M415.50,468.12 L416.19,467.45 L416.88,466.78 L417.57,466.12 L418.95,465.45 L419.64,465.45 L420.33,465.45 L421.02,465.45 L422.41,466.12 L423.10,468.12 L423.10,468.79 L423.10,469.46 L423.10,470.12 L423.10,470.79 L423.10,471.46 L423.10,472.13 L423.10,472.80 L423.10,473.46 L423.10,474.13 L423.10,474.80 M433.44,480.65 L432.75,480.65 L432.06,480.65 L431.38,480.65 L430.69,480.65 L430.00,480.65 L429.31,480.65 L428.62,480.65 L428.62,479.81 L428.62,478.98 L428.62,478.14 L428.62,477.31 L428.62,476.47 L428.62,475.63 L428.62,474.80 L428.62,474.13 L428.62,473.46 L428.62,472.80 L428.62,472.13 L428.62,471.46 L428.62,470.79 L428.62,470.12 L428.62,469.46 L428.62,468.79 L428.62,468.12 L428.62,467.45 L428.62,466.78 L428.62,466.12 L428.62,465.45 L428.62,464.78 L428.62,464.11 L428.62,463.44 L428.62,462.78 L428.62,462.11 L428.62,461.44 L428.62,460.77 L428.62,460.10 L428.62,459.44 L428.62,458.77 L428.62,458.10 L429.31,458.10 L430.00,458.10 L430.69,458.10 L431.38,458.10 L432.06,458.10 L432.75,458.10 L433.44,458.10 M440.69,465.45 L436.55,479.98 M439.38,469.46 L438.69,472.13 L438.83,473.46 L439.52,474.47 L440.55,474.80 L442.07,474.80 L443.45,474.13 L444.97,472.80 L446.42,470.79 L447.94,468.12 M449.32,465.45 L447.94,468.12 L447.45,471.46 L447.45,473.46 L447.94,474.60 L448.97,474.80 L450.01,474.33 L450.90,473.13 M454.15,474.80 L454.15,474.13 L454.15,473.46 L454.15,472.80 L454.15,472.13 L454.15,471.46 L454.15,470.79 L454.15,470.12 L454.15,469.46 L454.15,468.79 L454.15,468.12 M454.15,468.12 L454.15,467.45 L454.15,466.78 L454.15,466.12 L454.15,465.45 M454.15,468.12 L454.84,467.45 L455.53,466.78 L456.22,466.12 L457.60,465.45 L458.29,465.45 L458.98,465.45 L459.67,465.45 L461.05,466.12 L461.74,468.12 M461.74,474.80 L461.74,474.13 L461.74,473.46 L461.74,472.80 L461.74,472.13 L461.74,471.46 L461.74,470.79 L461.74,470.12 L461.74,469.46 L461.74,468.79 L461.74,468.12 M461.74,468.12 L462.43,467.45 L463.12,466.78 L463.81,466.12 L465.19,465.45 L465.88,465.45 L466.57,465.45 L467.26,465.45 L468.64,466.12 L469.33,468.12 L469.33,468.79 L469.33,469.46 L469.33,470.12 L469.33,470.79 L469.33,471.46 L469.33,472.13 L469.33,472.80 L469.33,473.46 L469.33,474.13 L469.33,474.80 M474.16,480.65 L474.85,480.65 L475.54,480.65 L476.23,480.65 L476.92,480.65 L477.61,480.65 L478.30,480.65 L478.99,480.65 L478.99,479.81 L478.99,478.98 L478.99,478.14 L478.99,477.31 L478.99,476.47 L478.99,475.63 L478.99,474.80 L478.99,474.13 L478.99,473.46 L478.99,472.80 L478.99,472.13 L478.99,471.46 L478.99,470.79 L478.99,470.12 L478.99,469.46 L478.99,468.79 L478.99,468.12 L478.99,467.45 L478.99,466.78 L478.99,466.12 L478.99,465.45 L478.99,464.78 L478.99,464.11 L478.99,463.44 L478.99,462.78 L478.99,462.11 L478.99,461.44 L478.99,460.77 L478.99,460.10 L478.99,459.44 L478.99,458.77 L478.99,458.10 L478.30,458.10 L477.61,458.10 L476.92,458.10 L476.23,458.10 L475.54,458.10 L474.85,458.10 L474.16,458.10" stroke="#000" stroke-width="1.3" stroke-linecap="round"/>
<path d="M543.14,94.22 L542.77,94.94 L542.40,95.29 L542.03,95.64 L541.30,96.00 L540.93,96.00 L540.56,96.00 L540.19,96.00 L539.82,96.00 L539.08,95.64 L538.71,95.29 L538.35,94.94 L537.98,94.22 L537.61,93.16 L537.61,92.81 L537.61,92.45 L537.61,92.09 L537.61,91.74 L537.61,91.39 L537.98,90.32 L538.35,89.61 L538.71,89.25 L539.08,88.90 L539.82,88.55 L540.19,88.55 L540.56,88.55 L540.93,88.55 L541.30,88.55 L542.03,88.90 L542.40,89.25 L542.77,89.61 L543.14,90.32 M545.73,96.00 L545.73,95.64 L545.73,95.29 L545.73,94.94 L545.73,94.58 L545.73,94.22 L545.73,93.87 L545.73,93.52 L545.73,93.16 L545.73,92.81 L545.73,92.45 L545.73,92.09 L545.73,91.74 L545.73,91.39 L545.73,91.03 L545.73,90.67 L545.73,90.32 L545.73,89.97 L545.73,89.61 L545.73,89.25 L545.73,88.90 L545.73,88.55 L546.09,88.55 L546.46,88.55 L546.83,88.55 L547.20,88.55 L547.57,88.55 L547.94,88.55 L548.31,88.55 L549.42,88.90 L549.78,89.25 L550.15,89.61 L550.52,90.32 L550.89,91.39 L550.89,91.74 L550.89,92.09 L550.89,92.45 L550.89,92.81 L550.89,93.16 L550.52,94.22 L550.15,94.94 L549.78,95.29 L549.42,95.64 L548.31,96.00 L547.94,96.00 L547.57,96.00 L547.20,96.00 L546.83,96.00 L546.46,96.00 L546.09,96.00 L545.73,96.00 M553.47,92.09 L553.47,91.74 L553.47,91.39 L553.47,91.03 L553.47,90.67 L553.47,90.32 L553.47,89.97 L553.47,89.61 L553.47,89.25 L553.47,88.90 L553.47,88.55 L553.84,88.55 L554.21,88.55 L554.58,88.55 L554.95,88.55 L555.32,88.55 L555.69,88.55 L556.06,88.55 L556.43,88.55 L556.80,88.55 L557.16,88.55 L557.53,88.55 L557.90,88.55 L558.27,88.55 M553.47,92.09 L553.84,92.09 L554.21,92.09 L554.58,92.09 L554.95,92.09 L555.32,92.09 L555.69,92.09 L556.06,92.09 L556.43,92.09 M553.47,92.09 L553.47,92.45 L553.47,92.81 L553.47,93.16 L553.47,93.52 L553.47,93.87 L553.47,94.22 L553.47,94.58 L553.47,94.94 L553.47,95.29 L553.47,95.64 L553.47,96.00 L553.84,96.00 L554.21,96.00 L554.58,96.00 L554.95,96.00 L555.32,96.00 L555.69,96.00 L556.06,96.00 L556.43,96.00 L556.80,96.00 L557.16,96.00 L557.53,96.00 L557.90,96.00 L558.27,96.00 M541.30,110.06 L541.67,110.06 L542.03,110.06 L542.40,110.06 L542.77,110.06 L543.14,110.06 L543.14,110.42 L543.14,110.77 L543.14,111.12 L542.77,111.84 L542.40,112.19 L542.03,112.55 L541.30,112.90 L540.93,112.90 L540.56,112.90 L540.19,112.90 L539.82,112.90 L539.08,112.55 L538.71,112.19 L538.35,111.84 L537.98,111.12 L537.61,110.06 L537.61,109.71 L537.61,109.35 L537.61,109.00 L537.61,108.64 L537.61,108.29 L537.98,107.22 L538.35,106.51 L538.71,106.16 L539.08,105.80 L539.82,105.45 L540.19,105.45 L540.56,105.45 L540.93,105.45 L541.30,105.45 L542.03,105.80 L542.40,106.16 L542.77,106.51 L543.14,107.22 M545.73,112.90 L545.73,112.55 L545.73,112.19 L545.73,111.84 L545.73,111.48 L545.73,111.12 L545.73,110.77 L545.73,110.42 L545.73,110.06 L545.73,109.71 L545.73,109.35 L545.73,109.00 M545.73,109.00 L545.73,108.64 L545.73,108.29 L545.73,107.93 L545.73,107.58 L545.73,107.22 L545.73,106.87 L545.73,106.51 L545.73,106.16 L545.73,105.80 L545.73,105.45 L546.09,105.45 L546.46,105.45 L546.83,105.45 L547.20,105.45 L547.57,105.45 L547.94,105.45 L548.31,105.45 L548.68,105.45 L549.05,105.45 L550.15,105.80 L550.52,106.16 L550.89,106.87 L550.89,107.22 L550.89,107.58 L550.52,108.29 L550.15,108.64 L549.05,109.00 L548.68,109.00 L548.31,109.00 M545.73,109.00 L546.09,109.00 L546.46,109.00 L546.83,109.00 L547.20,109.00 L547.57,109.00 L547.94,109.00 L548.31,109.00 M548.31,109.00 L550.89,112.90 M553.47,112.90 L553.47,112.55 L553.47,112.19 L553.47,111.84 L553.47,111.48 L553.47,111.12 L553.47,110.77 L553.47,110.42 L553.47,110.06 L553.47,109.71 L553.47,109.35 L553.47,109.00 M553.47,109.00 L553.47,108.64 L553.47,108.29 L553.47,107.93 L553.47,107.58 L553.47,107.22 L553.47,106.87 L553.47,106.51 L553.47,106.16 L553.47,105.80 L553.47,105.45 L553.84,105.45 L554.21,105.45 L554.58,105.45 L554.95,105.45 L555.32,105.45 L555.69,105.45 L556.06,105.45 L556.43,105.45 L556.80,105.45 L557.16,105.45 L557.53,105.45 L557.90,105.45 L558.27,105.45 M553.47,109.00 L553.84,109.00 L554.21,109.00 L554.58,109.00 L554.95,109.00 L555.32,109.00 L555.69,109.00 L556.06,109.00 L556.43,109.00 M537.98,130.00 L537.98,129.65 L537.98,129.29 L537.98,128.94 L537.98,128.58 L537.98,128.22 L537.98,127.87 L537.98,127.52 L537.98,127.16 L537.98,126.81 L537.98,126.45 L537.98,126.09 L537.98,125.74 L537.98,125.39 L537.98,125.03 L537.98,124.67 L537.98,124.32 L537.98,123.97 L537.98,123.61 L537.98,123.25 L537.98,122.90 L537.98,122.55 L538.35,122.55 L538.71,122.55 L539.08,122.55 L539.45,122.55 L539.82,122.55 L540.19,122.55 L540.56,122.55 L541.67,122.90 L542.03,123.25 L542.40,123.61 L542.77,124.32 L543.14,125.39 L543.14,125.74 L543.14,126.09 L543.14,126.45 L543.14,126.81 L543.14,127.16 L542.77,128.22 L542.40,128.94 L542.03,129.29 L541.67,129.65 L540.56,130.00 L540.19,130.00 L539.82,130.00 L539.45,130.00 L539.08,130.00 L538.71,130.00 L538.35,130.00 L537.98,130.00 M545.73,130.00 L545.73,129.65 L545.73,129.29 L545.73,128.94 L545.73,128.58 L545.73,128.22 L545.73,127.87 L545.73,127.52 L545.73,127.16 L545.73,126.81 L545.73,126.45 L545.73,126.09 M545.73,126.09 L545.73,125.74 L545.73,125.39 L545.73,125.03 L545.73,124.67 L545.73,124.32 L545.73,123.97 L545.73,123.61 L545.73,123.25 L545.73,122.90 L545.73,122.55 M545.73,126.09 L546.09,126.09 L546.46,126.09 L546.83,126.09 L547.20,126.09 L547.57,126.09 L547.94,126.09 L548.31,126.09 L548.68,126.09 L549.05,126.09 L549.42,126.09 L549.78,126.09 L550.15,126.09 L550.52,126.09 L550.89,126.09 M550.89,130.00 L550.89,129.65 L550.89,129.29 L550.89,128.94 L550.89,128.58 L550.89,128.22 L550.89,127.87 L550.89,127.52 L550.89,127.16 L550.89,126.81 L550.89,126.45 L550.89,126.09 M550.89,126.09 L550.89,125.74 L550.89,125.39 L550.89,125.03 L550.89,124.67 L550.89,124.32 L550.89,123.97 L550.89,123.61 L550.89,123.25 L550.89,122.90 L550.89,122.55 M553.47,128.94 L553.84,129.29 L554.21,129.65 L555.32,130.00 L555.69,130.00 L556.06,130.00 L556.43,130.00 L556.80,130.00 L557.90,129.65 L558.27,129.29 L558.64,128.94 L558.64,128.58 L558.64,128.22 L558.64,127.87 L558.27,127.16 L557.90,126.81 L557.16,126.45 L556.06,126.09 L554.95,125.74 L554.21,125.39 L553.84,125.03 L553.47,124.32 L553.47,123.97 L553.47,123.61 L553.84,123.25 L554.21,122.90 L555.32,122.55 L555.69,122.55 L556.06,122.55 L556.43,122.55 L556.80,122.55 L557.90,122.90 L558.27,123.25 L558.64,123.61 M569.71,132.49 L569.34,132.13 L568.97,131.78 L568.23,130.71 L567.87,130.00 L567.50,129.29 L567.13,127.52 L567.13,127.16 L567.13,126.81 L567.13,126.45 L567.13,126.09 L567.50,124.32 L567.87,123.61 L568.23,122.90 L568.97,121.84 L569.34,121.48 L569.71,121.12 M571.92,126.81 L571.92,126.45 L571.92,126.09 L571.92,125.74 L572.29,123.97 L573.03,122.90 L574.14,122.55 L574.51,122.55 L574.88,122.55 L575.98,122.90 L576.72,123.97 L577.09,125.74 L577.09,126.09 L577.09,126.45 L577.09,126.81 L576.72,128.58 L575.98,129.65 L574.88,130.00 L574.51,130.00 L574.14,130.00 L573.03,129.65 L572.29,128.58 L571.92,126.81 M579.67,129.65 L580.04,129.29 L580.41,129.65 L580.04,130.00 L579.67,129.65 M584.10,123.97 L584.84,123.61 L585.21,123.25 L585.58,122.90 L585.95,122.55 L585.95,122.90 L585.95,123.25 L585.95,123.61 L585.95,123.97 L585.95,124.32 L585.95,124.67 L585.95,125.03 L585.95,125.39 L585.95,125.74 L585.95,126.09 L585.95,126.45 L585.95,126.81 L585.95,127.16 L585.95,127.52 L585.95,127.87 L585.95,128.22 L585.95,128.58 L585.95,128.94 L585.95,129.29 L585.95,129.65 L585.95,130.00 M597.94,125.03 L595.72,132.20 M597.24,127.16 L596.87,128.58 L596.94,129.29 L597.31,129.82 L597.86,130.00 L598.68,130.00 L599.41,129.65 L600.23,128.94 L601.00,127.87 L601.81,126.45 M602.55,125.03 L601.81,126.45 L601.55,128.22 L601.55,129.29 L601.81,129.89 L602.37,130.00 L602.92,129.75 L603.40,129.11 M605.13,130.00 L605.13,129.65 L605.13,129.29 L605.13,128.94 L605.13,128.58 L605.13,128.22 L605.13,127.87 L605.13,127.52 L605.13,127.16 L605.13,126.81 L605.13,126.45 M605.13,126.45 L605.13,126.09 L605.13,125.74 L605.13,125.39 L605.13,125.03 M605.13,126.45 L605.50,126.09 L605.87,125.74 L606.24,125.39 L606.98,125.03 L607.35,125.03 L607.72,125.03 L608.09,125.03 L608.82,125.39 L609.19,126.45 M609.19,130.00 L609.19,129.65 L609.19,129.29 L609.19,128.94 L609.19,128.58 L609.19,128.22 L609.19,127.87 L609.19,127.52 L609.19,127.16 L609.19,126.81 L609.19,126.45 M609.19,126.45 L609.56,126.09 L609.93,125.74 L610.30,125.39 L611.04,125.03 L611.41,125.03 L611.78,125.03 L612.15,125.03 L612.88,125.39 L613.25,126.45 L613.25,126.81 L613.25,127.16 L613.25,127.52 L613.25,127.87 L613.25,128.22 L613.25,128.58 L613.25,128.94 L613.25,129.29 L613.25,129.65 L613.25,130.00 M615.84,132.49 L616.20,132.13 L616.57,131.78 L617.31,130.71 L617.68,130.00 L618.05,129.29 L618.42,127.52 L618.42,127.16 L618.42,126.81 L618.42,126.45 L618.42,126.09 L618.05,124.32 L617.68,123.61 L617.31,122.90 L616.57,121.84 L616.20,121.48 L615.84,121.12 M537.98,147.00 L537.98,146.65 L537.98,146.29 L537.98,145.94 L537.98,145.58 L537.98,145.22 L537.98,144.87 L537.98,144.51 L537.98,144.16 L537.98,143.81 L537.98,143.45 L537.98,143.09 L537.98,142.74 L537.98,142.38 L537.98,142.03 L537.98,141.68 L537.98,141.32 L537.98,140.97 L537.98,140.61 L537.98,140.25 L537.98,139.90 L537.98,139.54 L538.35,139.54 L538.71,139.54 L539.08,139.54 L539.45,139.54 L539.82,139.54 L540.19,139.54 L540.56,139.54 L541.67,139.90 L542.03,140.25 L542.40,140.61 L542.77,141.32 L543.14,142.38 L543.14,142.74 L543.14,143.09 L543.14,143.45 L543.14,143.81 L543.14,144.16 L542.77,145.22 L542.40,145.94 L542.03,146.29 L541.67,146.65 L540.56,147.00 L540.19,147.00 L539.82,147.00 L539.45,147.00 L539.08,147.00 L538.71,147.00 L538.35,147.00 L537.98,147.00 M545.73,147.00 L545.73,146.65 L545.73,146.29 L545.73,145.94 L545.73,145.58 L545.73,145.22 L545.73,144.87 L545.73,144.51 L545.73,144.16 L545.73,143.81 L545.73,143.45 L545.73,143.09 M545.73,143.09 L545.73,142.74 L545.73,142.38 L545.73,142.03 L545.73,141.68 L545.73,141.32 L545.73,140.97 L545.73,140.61 L545.73,140.25 L545.73,139.90 L545.73,139.54 M545.73,143.09 L546.09,143.09 L546.46,143.09 L546.83,143.09 L547.20,143.09 L547.57,143.09 L547.94,143.09 L548.31,143.09 L548.68,143.09 L549.05,143.09 L549.42,143.09 L549.78,143.09 L550.15,143.09 L550.52,143.09 L550.89,143.09 M550.89,147.00 L550.89,146.65 L550.89,146.29 L550.89,145.94 L550.89,145.58 L550.89,145.22 L550.89,144.87 L550.89,144.51 L550.89,144.16 L550.89,143.81 L550.89,143.45 L550.89,143.09 M550.89,143.09 L550.89,142.74 L550.89,142.38 L550.89,142.03 L550.89,141.68 L550.89,141.32 L550.89,140.97 L550.89,140.61 L550.89,140.25 L550.89,139.90 L550.89,139.54 M553.47,145.94 L553.84,146.29 L554.21,146.65 L555.32,147.00 L555.69,147.00 L556.06,147.00 L556.43,147.00 L556.80,147.00 L557.90,146.65 L558.27,146.29 L558.64,145.94 L558.64,145.58 L558.64,145.22 L558.64,144.87 L558.27,144.16 L557.90,143.81 L557.16,143.45 L556.06,143.09 L554.95,142.74 L554.21,142.38 L553.84,142.03 L553.47,141.32 L553.47,140.97 L553.47,140.61 L553.84,140.25 L554.21,139.90 L555.32,139.54 L555.69,139.54 L556.06,139.54 L556.43,139.54 L556.80,139.54 L557.90,139.90 L558.27,140.25 L558.64,140.61 M569.71,149.49 L569.34,149.13 L568.97,148.78 L568.23,147.71 L567.87,147.00 L567.50,146.29 L567.13,144.51 L567.13,144.16 L567.13,143.81 L567.13,143.45 L567.13,143.09 L567.50,141.32 L567.87,140.61 L568.23,139.90 L568.97,138.84 L569.34,138.48 L569.71,138.12 M573.03,140.97 L573.77,140.61 L574.14,140.25 L574.51,139.90 L574.88,139.54 L574.88,139.90 L574.88,140.25 L574.88,140.61 L574.88,140.97 L574.88,141.32 L574.88,141.68 L574.88,142.03 L574.88,142.38 L574.88,142.74 L574.88,143.09 L574.88,143.45 L574.88,143.81 L574.88,144.16 L574.88,144.51 L574.88,144.87 L574.88,145.22 L574.88,145.58 L574.88,145.94 L574.88,146.29 L574.88,146.65 L574.88,147.00 M579.67,146.65 L580.04,146.29 L580.41,146.65 L580.04,147.00 L579.67,146.65 M582.99,145.58 L583.36,146.29 L583.73,146.65 L584.84,147.00 L585.21,147.00 L585.58,147.00 L585.95,147.00 L587.05,146.65 L587.42,146.29 L587.79,145.94 L588.16,144.87 L588.16,144.51 L588.16,144.16 L587.79,143.09 L587.42,142.74 L587.05,142.38 L585.95,142.03 L585.58,142.03 L585.21,142.03 L584.84,142.03 L583.73,142.38 L583.36,142.74 L583.73,139.54 L584.10,139.54 L584.47,139.54 L584.84,139.54 L585.21,139.54 L585.58,139.54 L585.95,139.54 L586.32,139.54 L586.68,139.54 L587.05,139.54 L587.42,139.54 M597.94,142.03 L595.72,149.20 M597.24,144.16 L596.87,145.58 L596.94,146.29 L597.31,146.82 L597.86,147.00 L598.68,147.00 L599.41,146.65 L600.23,145.94 L601.00,144.87 L601.81,143.45 M602.55,142.03 L601.81,143.45 L601.55,145.22 L601.55,146.29 L601.81,146.89 L602.37,147.00 L602.92,146.75 L603.40,146.11 M605.13,147.00 L605.13,146.65 L605.13,146.29 L605.13,145.94 L605.13,145.58 L605.13,145.22 L605.13,144.87 L605.13,144.51 L605.13,144.16 L605.13,143.81 L605.13,143.45 M605.13,143.45 L605.13,143.09 L605.13,142.74 L605.13,142.38 L605.13,142.03 M605.13,143.45 L605.50,143.09 L605.87,142.74 L606.24,142.38 L606.98,142.03 L607.35,142.03 L607.72,142.03 L608.09,142.03 L608.82,142.38 L609.19,143.45 M609.19,147.00 L609.19,146.65 L609.19,146.29 L609.19,145.94 L609.19,145.58 L609.19,145.22 L609.19,144.87 L609.19,144.51 L609.19,144.16 L609.19,143.81 L609.19,143.45 M609.19,143.45 L609.56,143.09 L609.93,142.74 L610.30,142.38 L611.04,142.03 L611.41,142.03 L611.78,142.03 L612.15,142.03 L612.88,142.38 L613.25,143.45 L613.25,143.81 L613.25,144.16 L613.25,144.51 L613.25,144.87 L613.25,145.22 L613.25,145.58 L613.25,145.94 L613.25,146.29 L613.25,146.65 L613.25,147.00 M615.84,149.49 L616.20,149.13 L616.57,148.78 L617.31,147.71 L617.68,147.00 L618.05,146.29 L618.42,144.51 L618.42,144.16 L618.42,143.81 L618.42,143.45 L618.42,143.09 L618.05,141.32 L617.68,140.61 L617.31,139.90 L616.57,138.84 L616.20,138.48 L615.84,138.12" stroke="#000" stroke-width="1.4" stroke-linecap="round"/>
</g></svg>
</div></body></html>
